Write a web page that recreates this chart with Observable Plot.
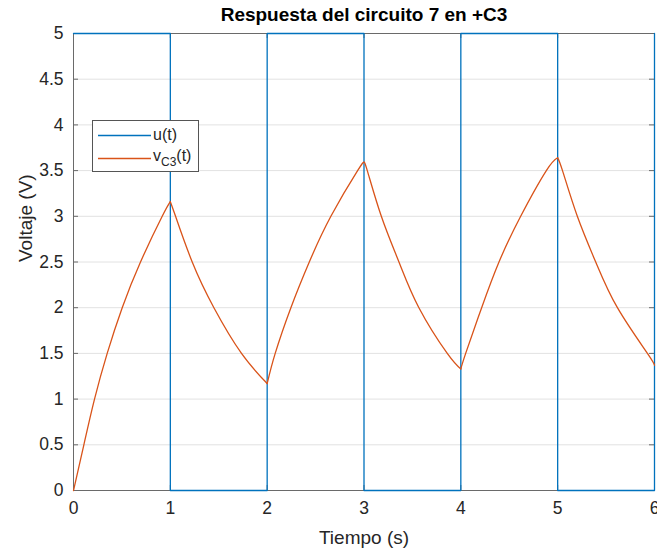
<!DOCTYPE html>
<html>
<head>
<meta charset="utf-8">
<script src="https://cdn.jsdelivr.net/npm/d3@7"></script>
<script src="https://cdn.jsdelivr.net/npm/@observablehq/plot@0.6"></script>
<style>
  body { margin: 0; background: #fff; }
  #wrap { position: relative; width: 657px; height: 548px; font-family: "Liberation Sans", Arial, Helvetica, sans-serif; }
  #legend { position: absolute; left: 92px; top: 120px; width: 107px; height: 52px; background: #fff; border: 1px solid #555; box-sizing: border-box; }
  #legend svg { position: absolute; left: 0; top: 0; }
  #legend .lab { position: absolute; left: 60px; font-size: 16px; color: #262626; line-height: 1; }
</style>
</head>
<body>
<div id="wrap"></div>
<script>
// ---- data ----
const titleText = "Respuesta del circuito 7 en +C3";
const xLabel = "Tiempo (s)";
const yLabel = "Voltaje (V)";
const xTicks = [0, 1, 2, 3, 4, 5, 6];
const yTicks = [0, 0.5, 1, 1.5, 2, 2.5, 3, 3.5, 4, 4.5, 5];

// u(t): square input
const uTime = [0, 1, 1, 2, 2, 3, 3, 4, 4, 5, 5, 6, 6];
const uVolt = [5, 5, 0, 0, 5, 5, 0, 0, 5, 5, 0, 0, 5];

// vC3(t): capacitor voltage
const vTime = [0, 0.107, 0.217, 0.348, 0.503, 0.692, 0.916, 1,
  1.054, 1.226, 1.45, 1.735, 2,
  2.083, 2.245, 2.435, 2.658, 2.934, 3,
  3.034, 3.179, 3.361, 3.567, 3.86, 4,
  4.05, 4.215, 4.394, 4.618, 4.883, 5,
  5.05, 5.203, 5.393, 5.617, 5.927, 6];
const vVolt = [0, 0.5, 1, 1.5, 2, 2.5, 3, 3.16,
  3, 2.5, 2, 1.5, 1.17,
  1.5, 2, 2.5, 3, 3.5, 3.59,
  3.5, 3, 2.5, 2, 1.5, 1.33,
  1.5, 2, 2.5, 3, 3.5, 3.64,
  3.5, 3, 2.5, 2, 1.5, 1.37];

const blue = "#0072BD";
const orange = "#D95319";

// build tables
const uRows = uTime.map((t, i) => ({t, v: uVolt[i]}));
// split v series into monotone pieces (turning points shared)
const vRows = [];
let seg = 0, dir = 0;
for (let i = 0; i < vTime.length; i++) {
  if (i > 0) {
    const d = Math.sign(vVolt[i] - vVolt[i - 1]);
    if (dir !== 0 && d !== dir) {
      seg++;
      vRows.push({t: vTime[i - 1], v: vVolt[i - 1], seg});
    }
    dir = d;
  }
  vRows.push({t: vTime[i], v: vVolt[i], seg});
}

const W = 657, H = 548, mT = 33, mB = 58, mL = 73, mR = 3;
const fw = W - mL - mR, fh = H - mT - mB, tk = 5;
const fontFam = '"Liberation Sans", Arial, Helvetica, sans-serif';

const chart = Plot.plot({
  width: W, height: H,
  marginTop: mT, marginBottom: mB, marginLeft: mL, marginRight: mR,
  x: {domain: [0, 6]},
  y: {domain: [0, 5]},
  style: {fontFamily: fontFam, color: "#262626", background: "#fff"},
  marks: [
    Plot.gridY(yTicks, {stroke: "#e2e2e2", strokeOpacity: 1}),
    Plot.frame({stroke: "#6a6a6a"}),
    Plot.tickX(xTicks, {x: d => d, insetTop: fh - tk, stroke: "#6a6a6a"}),
    Plot.tickX(xTicks, {x: d => d, insetBottom: fh - tk, stroke: "#6a6a6a"}),
    Plot.tickY(yTicks, {y: d => d, insetRight: fw - tk, stroke: "#6a6a6a"}),
    Plot.tickY(yTicks, {y: d => d, insetLeft: fw - tk, stroke: "#6a6a6a"}),
    Plot.axisX(xTicks, {tickSize: 0, tickPadding: 11, fontSize: 17.5, label: null, tickFormat: d => String(d)}),
    Plot.axisY(yTicks, {tickSize: 0, tickPadding: 10, fontSize: 17.5, label: null, tickFormat: d => String(d)}),
    Plot.line(uRows, {x: "t", y: "v", stroke: blue, strokeWidth: 1.3}),
    Plot.line(vRows, {x: "t", y: "v", z: "seg", stroke: orange, strokeWidth: 1.3, curve: "natural"}),
    Plot.text([titleText], {text: d => d, frameAnchor: "top", dy: -19, fontWeight: "bold", fontSize: 19, lineAnchor: "middle", fill: "#000"}),
    Plot.text([xLabel], {text: d => d, frameAnchor: "bottom", dy: 47, fontSize: 19, lineAnchor: "middle"}),
    Plot.text([yLabel], {text: d => d, frameAnchor: "left", dx: -48, rotate: -90, fontSize: 19, lineAnchor: "middle"})
  ]
});

const wrap = document.getElementById("wrap");
wrap.appendChild(chart);

// legend
const leg = document.createElement("div");
leg.id = "legend";
leg.innerHTML = `
  <svg width="107" height="52">
    <line x1="5" x2="58" y1="14.5" y2="14.5" stroke="${blue}" stroke-width="1.3"/>
    <line x1="5" x2="58" y1="37.5" y2="37.5" stroke="${orange}" stroke-width="1.3"/>
  </svg>
  <div class="lab" style="top:6px">u(t)</div>
  <div class="lab" style="top:27px">v<sub style="font-size:12px;vertical-align:-5px">C3</sub>(t)</div>`;
wrap.appendChild(leg);
</script>
</body>
</html>
